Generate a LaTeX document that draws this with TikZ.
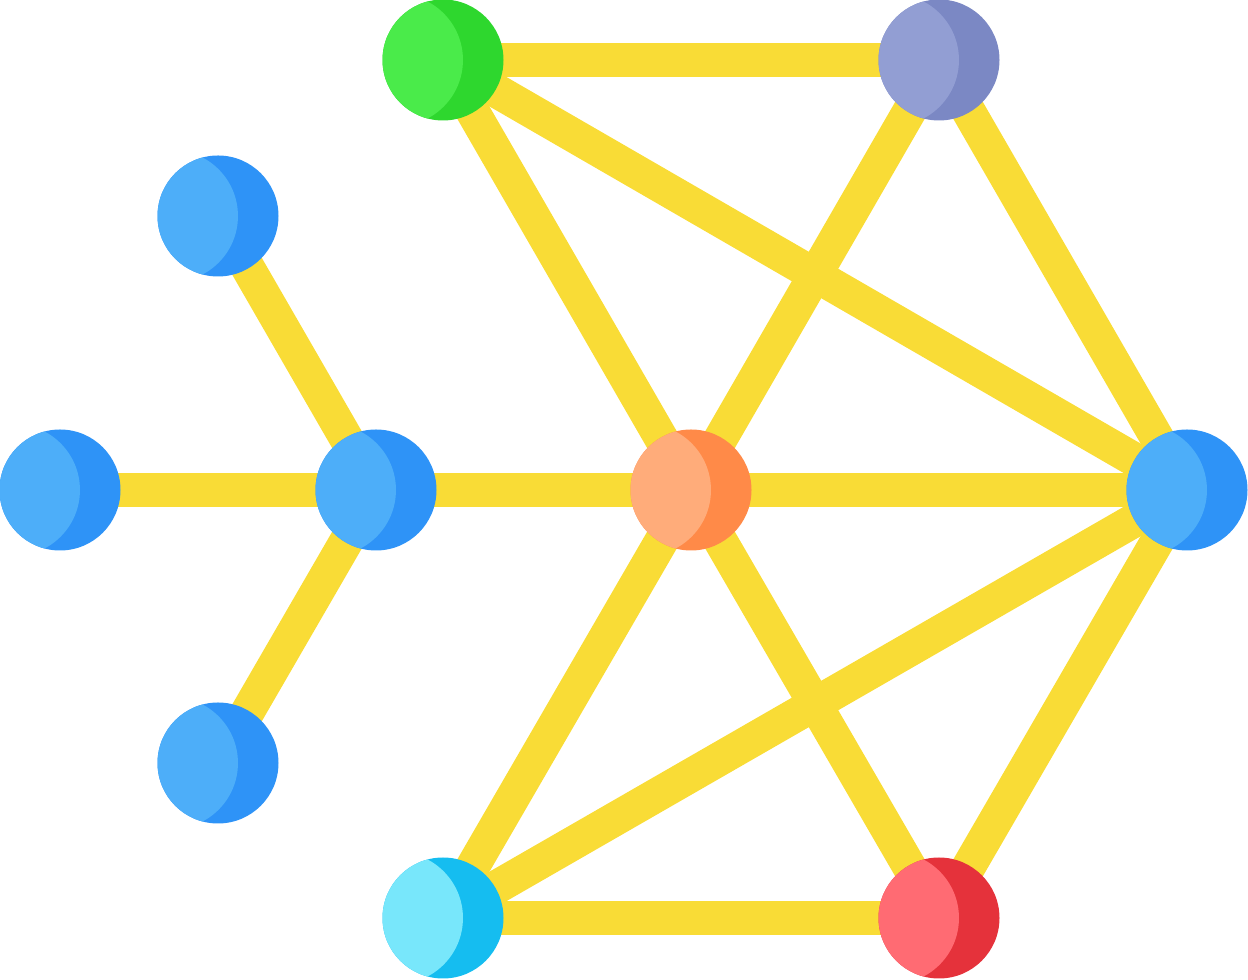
\documentclass[tikz,border=0pt]{standalone}
\newcommand{\ball}[3]{%
  \fill[#3] (#1) circle (60.5);
  \begin{scope}
    \clip (#1) circle (60.5);
    \fill[#2] ([xshift=-0.46cm]#1) circle (66);
  \end{scope}}
\begin{document}
\begin{tikzpicture}[x=0.01cm,y=-0.01cm]
\definecolor{ylw}{HTML}{F9DC36}
\definecolor{gL}{HTML}{4AEB4A}\definecolor{gD}{HTML}{2ED72E}
\definecolor{pL}{HTML}{929ED3}\definecolor{pD}{HTML}{7B88C4}
\definecolor{bL}{HTML}{4DAEF9}\definecolor{bD}{HTML}{2E93F7}
\definecolor{oL}{HTML}{FFAC7A}\definecolor{oD}{HTML}{FF8A48}
\definecolor{cL}{HTML}{78E7FB}\definecolor{cD}{HTML}{15BDF0}
\definecolor{rL}{HTML}{FF6B73}\definecolor{rD}{HTML}{E5323B}
\tikzset{edge/.style={draw=ylw,line width=0.34cm}}
\useasboundingbox (0,0) rectangle (1248,980);
\coordinate (G) at (443,60);
\coordinate (P) at (939,60);
\coordinate (TL) at (218,216);
\coordinate (L) at (60,490);
\coordinate (M) at (376,490);
\coordinate (O) at (691,490);
\coordinate (R) at (1187,490);
\coordinate (BL) at (218,763);
\coordinate (C) at (443,918);
\coordinate (D) at (939,918);
\foreach \a/\b in {G/P,G/O,G/R,P/O,P/R,O/R,O/M,O/C,O/D,R/C,R/D,C/D,M/L,M/TL,M/BL}
  \draw[edge] (\a) -- (\b);
\ball{G}{gL}{gD}
\ball{P}{pL}{pD}
\ball{TL}{bL}{bD}
\ball{L}{bL}{bD}
\ball{M}{bL}{bD}
\ball{O}{oL}{oD}
\ball{R}{bL}{bD}
\ball{BL}{bL}{bD}
\ball{C}{cL}{cD}
\ball{D}{rL}{rD}
\end{tikzpicture}
\end{document}
